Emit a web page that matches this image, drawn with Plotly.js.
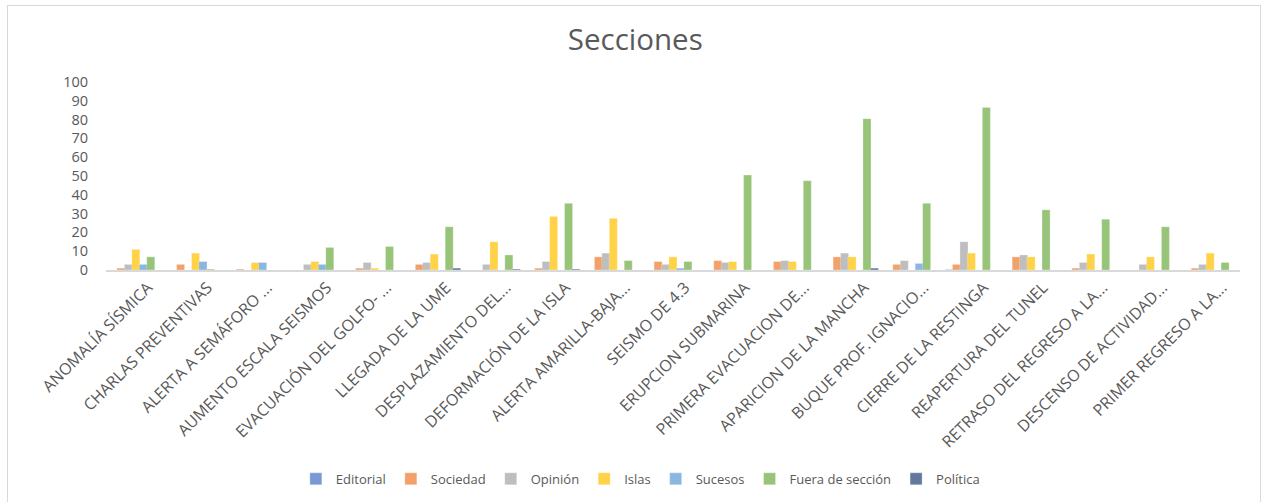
<!DOCTYPE html>
<html>
<head>
<meta charset="utf-8">
<script src="https://cdn.plot.ly/plotly-3.0.1.min.js"></script>
<style>
  html, body { margin: 0; padding: 0; background: #fff; }
  #wrap { position: relative; width: 1263px; height: 502px; }
  #chart { width: 1263px; height: 502px; }
  #frame { position: absolute; left: 7px; top: 5px; width: 1254px; height: 500px;
           border: 1px solid #d9d9d9; pointer-events: none; box-sizing: border-box; }
</style>
</head>
<body>
<div id="wrap">
  <div id="chart"></div>
  <div id="frame"></div>
</div>
<script>
const categories = [
  "ANOMALÍA SÍSMICA", "CHARLAS PREVENTIVAS", "ALERTA A SEMÁFORO ...", "AUMENTO ESCALA SEISMOS",
  "EVACUACIÓN DEL GOLFO- ...", "LLEGADA DE LA UME", "DESPLAZAMIENTO DEL...", "DEFORMACIÓN DE LA ISLA",
  "ALERTA AMARILLA-BAJA...", "SEISMO DE 4.3", "ERUPCION SUBMARINA", "PRIMERA EVACUACION DE...",
  "APARICION DE LA MANCHA", "BUQUE PROF. IGNACIO...", "CIERRE DE LA RESTINGA", "REAPERTURA DEL TUNEL",
  "RETRASO DEL REGRESO A LA...", "DESCENSO DE ACTIVIDAD...", "PRIMER REGRESO A LA..."
];
const seriesNames = ["Editorial", "Sociedad", "Opinión", "Islas", "Sucesos", "Fuera de sección", "Política"];
const editorial = [0, 0, 0, 0, 0, 0, 0, 0, 0, 0, 0, 0, 0, 0, 0.3, 0, 0, 0, 0];
const sociedad  = [1, 3, 0.5, 0, 1, 3, 0, 1, 7, 4.5, 5, 4.5, 7, 3, 3, 7, 1, 0, 1];
const opinion   = [3, 0, 0, 3, 4, 4, 3, 4.5, 9, 3, 4, 5, 9, 5, 15, 8, 4, 3, 3];
const islas     = [11, 9, 4, 4.5, 1, 8.5, 15, 28.5, 27.5, 7, 4.5, 4.5, 7, 0, 9, 7, 8.5, 7, 9];
const sucesos   = [3, 4.5, 4, 3, 0, 0, 0, 0, 0, 1, 0, 0, 0, 3.5, 0, 0, 0, 0, 0];
const fuera     = [7, 0.5, 0, 12, 12.5, 23, 8, 35.5, 5, 4.5, 50.5, 47.5, 80.5, 35.5, 86.5, 32, 27, 23, 4];
const politica  = [0, 0, 0, 0, 0, 1, 0.5, 0.5, 0, 0, 0, 0, 1, 0, 0, 0, 0, 0, 0];
const yTicks = [0, 10, 20, 30, 40, 50, 60, 70, 80, 90, 100];

const values = [editorial, sociedad, opinion, islas, sucesos, fuera, politica];
const colors = ["rgba(68,114,196,0.72)", "rgba(237,125,49,0.72)", "rgba(165,165,165,0.72)",
                "rgba(255,192,0,0.72)", "rgba(91,155,213,0.72)", "rgba(112,173,71,0.72)",
                "rgba(38,68,120,0.72)"];
const step = 0.125, bw = 0.135;
const textColor = "#595959";
const fontFam = "'Open Sans', 'Noto Sans', sans-serif";

const traces = seriesNames.map((name, i) => ({
  type: "bar",
  name: name,
  x: categories,
  y: values[i],
  width: bw,
  offset: (i - 3) * step - bw / 2,
  marker: { color: colors[i], line: { color: "rgba(255,255,255,0.5)", width: 0.6 } },
  hoverinfo: "x+y+name"
}));

const layout = {
  width: 1263, height: 502,
  margin: { l: 106, r: 23, t: 82, b: 232, pad: 0 },
  paper_bgcolor: "#fff", plot_bgcolor: "#fff",
  barmode: "overlay",
  font: { family: fontFam, color: textColor, size: 13 },
  title: { text: "Secciones", xref: "container", x: 0.503, y: 0.92, yanchor: "middle",
           font: { family: fontFam, size: 29.5, color: textColor } },
  xaxis: { type: "category", tickangle: -45, showline: true, linecolor: "#d9d9d9", linewidth: 2,
           showgrid: false, ticks: "", tickfont: { size: 16, color: textColor }, automargin: false,
           ticklabelshift: 12, ticklabelstandoff: 0 },
  yaxis: { range: [0, 100], tickvals: yTicks, showgrid: false, zeroline: false, showline: false,
           ticks: "", tickfont: { size: 14.5, color: textColor }, ticklabelstandoff: 17, automargin: false },
  showlegend: true,
  legend: { orientation: "h", xref: "container", yref: "container", x: 0.507, xanchor: "center",
            y: 0.046, yanchor: "middle",
            font: { size: 13, color: textColor }, itemwidth: 30, traceorder: "normal" }
};

Plotly.newPlot("chart", traces, layout, { displayModeBar: false, staticPlot: true });
</script>
</body>
</html>
